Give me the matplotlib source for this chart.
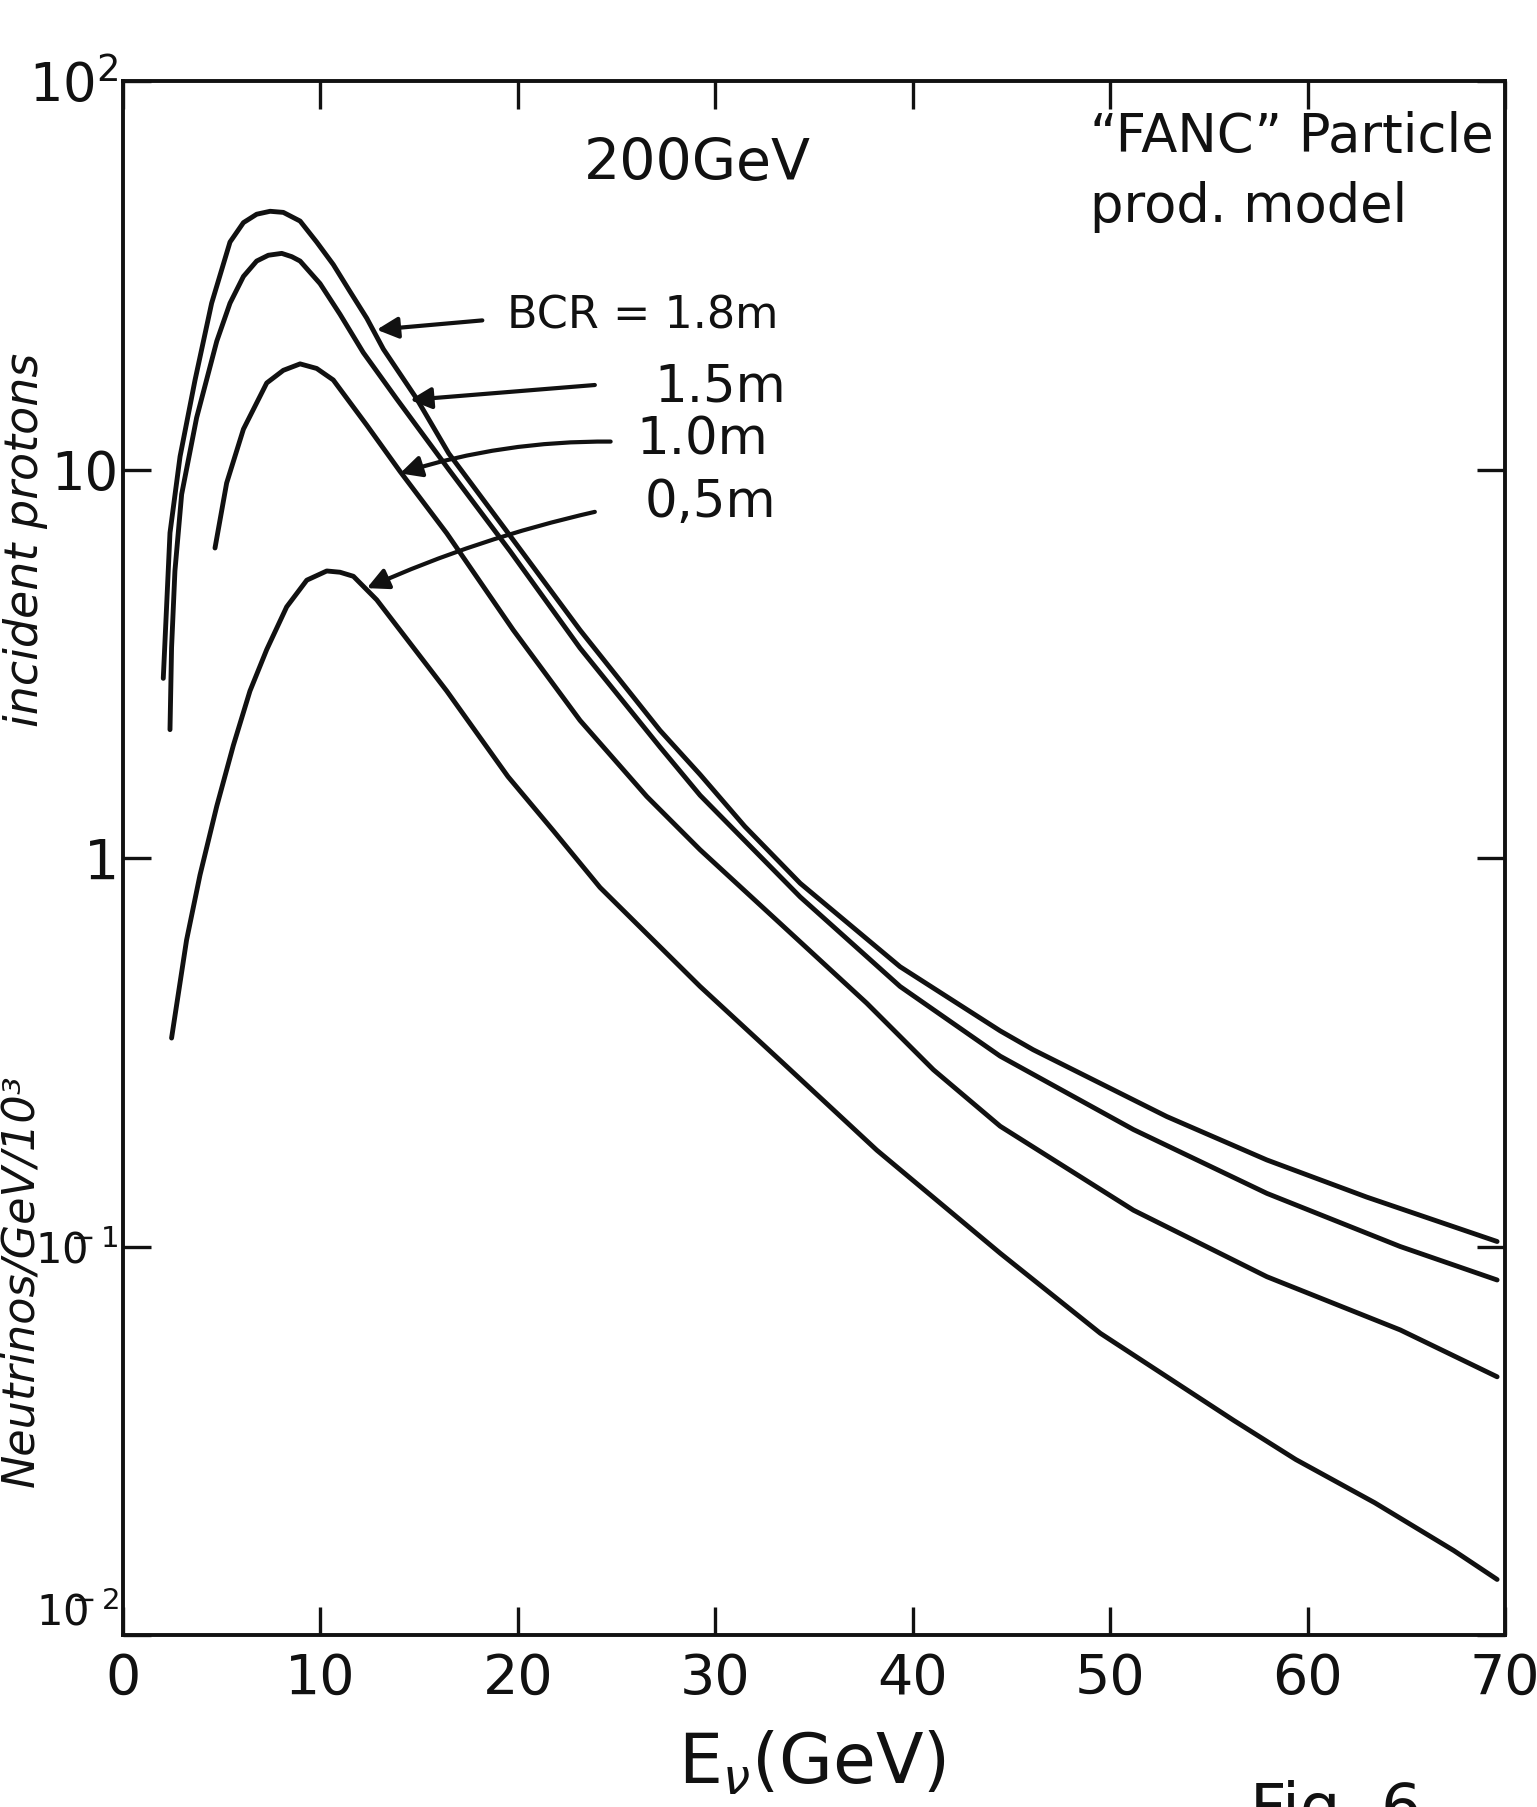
import matplotlib
matplotlib.use("Agg")
import matplotlib.pyplot as plt
from matplotlib.ticker import NullLocator

# ---- data ----
energy_18 = [2.04, 2.38, 2.89, 3.65, 4.49, 5.42, 6.10, 6.77, 7.45, 8.12, 8.97, 9.81, 10.65,
             11.5, 12.35, 13.19, 14.88, 16.5, 19.6, 23.15, 27.2, 29.23, 31.5, 34.3, 39.36,
             44.43, 46.1, 52.87, 57.94, 63.0, 69.6]
flux_18 = [2.90, 6.87, 10.8, 17.0, 26.8, 38.5, 43.2, 45.4, 46.2, 45.9, 43.6, 38.5, 33.7,
           28.7, 24.5, 20.4, 15.2, 11.0, 6.76, 3.86, 2.13, 1.64, 1.205, 0.861, 0.525,
           0.359, 0.321, 0.216, 0.167, 0.134, 0.103]

energy_15 = [2.38, 2.46, 2.63, 2.97, 3.73, 4.75, 5.42, 6.10, 6.77, 7.36, 8.04, 8.55, 8.97,
             9.98, 10.99, 12.17, 13.86, 16.5, 19.6, 23.15, 27.2, 29.23, 34.3, 39.36, 44.43,
             51.18, 57.94, 64.69, 69.6]
flux_15 = [2.14, 3.48, 5.48, 8.63, 13.6, 21.4, 26.8, 31.4, 34.4, 35.6, 36.0, 35.3, 34.4,
           30.1, 25.1, 20.0, 15.2, 10.0, 6.17, 3.47, 1.93, 1.45, 0.794, 0.467, 0.309,
           0.200, 0.137, 0.100, 0.082]

energy_10 = [4.66, 5.25, 6.10, 7.28, 8.12, 8.97, 9.81, 10.65, 12.35, 14.03, 16.4, 19.77,
             23.15, 26.53, 29.23, 33.28, 37.67, 41.05, 44.43, 51.18, 57.94, 64.69, 69.6]
flux_10 = [6.28, 9.23, 12.7, 16.7, 18.0, 18.7, 18.2, 17.0, 13.0, 9.89, 6.85, 3.86,
           2.26, 1.44, 1.05, 0.679, 0.423, 0.285, 0.204, 0.124, 0.0836, 0.0610, 0.0462]

energy_05 = [2.46, 3.22, 3.90, 4.75, 5.59, 6.43, 7.28, 8.29, 9.31, 10.32, 10.99, 11.67,
             12.85, 14.03, 16.4, 19.5, 21.8, 24.16, 29.23, 33.45, 38.18, 44.43, 49.5,
             56.25, 59.4, 63.4, 67.4, 69.6]
flux_05 = [0.344, 0.615, 0.904, 1.36, 1.95, 2.69, 3.44, 4.43, 5.19, 5.48, 5.44, 5.31,
           4.62, 3.86, 2.69, 1.62, 1.175, 0.84, 0.467, 0.296, 0.177, 0.0961, 0.0598,
           0.0357, 0.0283, 0.0219, 0.0165, 0.0139]

x_ticks = [0, 10, 20, 30, 40, 50, 60, 70]
x_tick_labels = ["0", "10", "20", "30", "40", "50", "60", "70"]
y_ticks = [1e-2, 1e-1, 1, 10, 100]
y_tick_labels = [r"$10^{\!\!\!\!\!-2}$", r"$10^{\!\!\!\!\!-1}$", "1", "10", r"$10^{2}$"]
y_tick_sizes = [30, 30, 40, 38, 38]

series_labels = ["BCR = 1.8m", "1.5m", "1.0m", "0,5m"]

# ---- figure ----
W, H = 1537, 1807
fig = plt.figure(figsize=(W / 100, H / 100), dpi=100)
fig.patch.set_facecolor("white")
ax = fig.add_axes([123 / W, 1 - 1635 / H, (1505 - 123) / W, (1635 - 81) / H])

lw = 3.5
for e, f in [(energy_18, flux_18), (energy_15, flux_15), (energy_10, flux_10), (energy_05, flux_05)]:
    ax.plot(e, f, color="#111111", lw=lw, solid_capstyle="round", solid_joinstyle="round")

ax.set_yscale("log")
ax.set_xlim(0, 70)
ax.set_ylim(1e-2, 1e2)
ax.set_xticks(x_ticks)
ax.set_xticklabels(x_tick_labels)
ax.set_yticks(y_ticks)
ax.set_yticklabels(y_tick_labels)
ax.yaxis.set_minor_locator(NullLocator())
ax.xaxis.set_minor_locator(NullLocator())

for s in ax.spines.values():
    s.set_linewidth(2.8)
    s.set_color("#111111")

ax.tick_params(axis="x", direction="in", length=20, width=2.4, top=True,
               labelsize=40, pad=12, colors="#111111")
ax.tick_params(axis="y", direction="in", length=20, width=2.4, right=True,
               labelsize=32, pad=3, colors="#111111")
for t, fs in zip(ax.get_yticklabels(), y_tick_sizes):
    t.set_fontsize(fs)
ax.get_yticklabels()[0].set_va("bottom")

# annotations
ax.text(29.1, 61, "200GeV", fontsize=41, ha="center", va="center", color="#111111")
ax.text(49.0, 72, "\u201cFANC\u201d Particle", fontsize=38, ha="left", va="center", color="#111111")
ax.text(49.0, 47.5, "prod. model", fontsize=38, ha="left", va="center", color="#111111")

label_pos = [(19.45, 24.8), (26.9, 16.3), (26.0, 11.9), (26.4, 8.2)]
label_sizes = [32, 37, 37, 37]
for (lx, ly), txt, fs in zip(label_pos, series_labels, label_sizes):
    ax.text(lx, ly, txt, fontsize=fs, ha="left", va="center", color="#111111")

arrows = [((18.2, 24.2), (12.85, 22.9), 0.0),
          ((23.9, 16.5), (14.54, 15.1), 0.0),
          ((24.7, 11.8), (14.03, 9.77), 0.08),
          ((23.9, 7.78), (12.35, 4.95), 0.05)]
for start, tip, rad in arrows:
    ax.annotate("", xy=tip, xytext=start,
                arrowprops=dict(arrowstyle="-|>", lw=3.0, color="#111111",
                                mutation_scale=32, shrinkA=0, shrinkB=0,
                                connectionstyle=f"arc3,rad={rad}"))

# axis labels
fig.text(812 / W, 1 - 1763 / H, r"E$_\nu$(GeV)", fontsize=50, ha="center", va="center",
         color="#111111")
fig.text(21 / W, 1 - 1281 / H, "Neutrinos/GeV/10\u00b3", fontsize=32,
         rotation=90, ha="center", va="center", style="italic", color="#111111")
fig.text(26 / W, 1 - 540 / H, "incident protons", fontsize=33,
         rotation=90, ha="center", va="center", style="italic", color="#111111")
fig.text(1250 / W, 1 - 1780 / H, "Fig. 6", fontsize=46, ha="left", va="top", color="#111111")

fig.savefig("out.png", dpi=100, facecolor="white")
